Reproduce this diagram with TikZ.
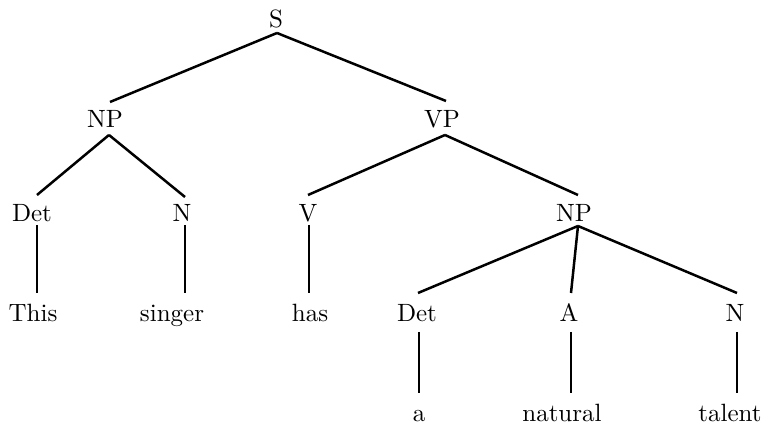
\documentclass[tikz,border=0pt]{standalone}
\usetikzlibrary{calc}
\begin{document}
\begin{tikzpicture}[x=0.4pt,y=-0.4pt,
  lbl/.style={inner sep=0pt, anchor=base},
  edge/.style={line width=1pt}]
\useasboundingbox (0,0) rectangle (762,424);
% labels
\node[lbl] (S) at (276,28) {S};
\node[lbl] (NPa) at (105,128) {NP};
\node[lbl] (VP) at (442,128) {VP};
\node[lbl] (Deta) at (32,222) {Det};
\node[lbl] (Na) at (182,222) {N};
\node[lbl] (V) at (308,222) {V};
\node[lbl] (NPb) at (574,222) {NP};
\node[lbl] (This) at (33,322) {This};
\node[lbl] (singer) at (172,322) {singer};
\node[lbl] (has) at (310,322) {has};
\node[lbl] (Detb) at (417,322) {Det};
\node[lbl] (A) at (569,322) {A};
\node[lbl] (Nb) at (735,322) {N};
\node[lbl] (a) at (419,422) {a};
\node[lbl] (natural) at (562,422) {natural};
\node[lbl] (talent) at (730,422) {talent};
% edges
\draw[edge] ($(S.base)+(1,5)$) -- ($(NPa.base)+(5,-26)$);
\draw[edge] ($(S.base)+(1,5)$) -- ($(VP.base)+(4,-27)$);
\draw[edge] ($(NPa.base)+(4,7)$) -- ($(Deta.base)+(5,-27)$);
\draw[edge] ($(NPa.base)+(4,7)$) -- ($(Na.base)+(3,-25)$);
\draw[edge] ($(VP.base)+(3,7)$) -- ($(V.base)+(0,-27)$);
\draw[edge] ($(VP.base)+(3,7)$) -- ($(NPb.base)+(4,-27)$);
\draw[edge] ($(Deta.base)+(5,3)$) -- ($(Deta.base |- This.base)+(5,-29)$);
\draw[edge] ($(Na.base)+(3,3)$) -- ($(Na.base |- singer.base)+(3,-29)$);
\draw[edge] ($(V.base)+(1,3)$) -- ($(V.base |- has.base)+(1,-29)$);
\draw[edge] ($(NPb.base)+(4,4)$) -- ($(Detb.base)+(1,-29)$);
\draw[edge] ($(NPb.base)+(4,4)$) -- ($(A.base)+(2,-29)$);
\draw[edge] ($(NPb.base)+(4,4)$) -- ($(Nb.base)+(2,-29)$);
\draw[edge] ($(Detb.base)+(2,10)$) -- ($(Detb.base |- a.base)+(2,-29)$);
\draw[edge] ($(A.base)+(2,10)$) -- ($(A.base |- natural.base)+(2,-29)$);
\draw[edge] ($(Nb.base)+(2,10)$) -- ($(Nb.base |- talent.base)+(2,-29)$);
\end{tikzpicture}
\end{document}
